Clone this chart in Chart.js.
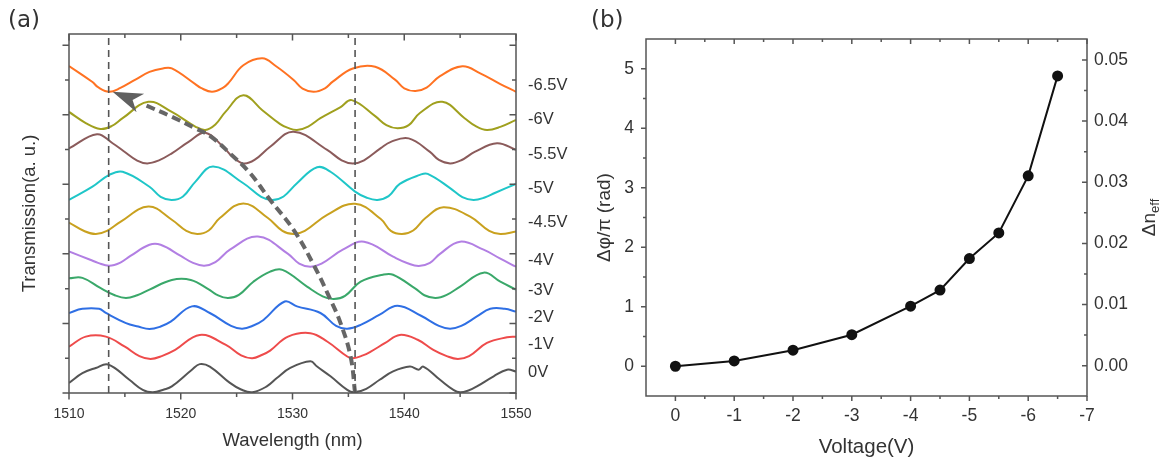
<!DOCTYPE html>
<html>
<head>
<meta charset="utf-8">
<script src="https://cdn.jsdelivr.net/npm/chart.js@4.4.1/dist/chart.umd.min.js"></script>
<style>
  body { margin: 0; background: #fff; width: 1169px; height: 466px; position: relative; overflow: hidden; }
  canvas { position: absolute; top: 0; }
  #graficoA { left: 0; }
  #graficoB { left: 570px; }
  .painel { position: absolute; top: 8px; font-family: 'DejaVu Sans', sans-serif; font-size: 23px; line-height: 23px; color: #333; }
</style>
</head>
<body>
<canvas id="graficoA" width="570" height="466"></canvas>
<canvas id="graficoB" width="599" height="466"></canvas>
<div class="painel" style="left:8px">(a)</div>
<div class="painel" style="left:591px">(b)</div>
<script>
const FONTE = "'Liberation Sans', Arial, sans-serif";

// ---------- Painel (a): espectros de transmissão (já deslocados) ----------
const tensoes = ['0V', '-1V', '-2V', '-3V', '-4V', '-4.5V', '-5V', '-5.5V', '-6V', '-6.5V'];
const cores = ['#555555', '#ee4b4b', '#2f6fe4', '#3aa86a', '#b27fe3', '#c9a11f', '#1fc6c8', '#8b5b5b', '#a0a01e', '#ff7222'];

// pares [comprimento de onda (nm), transmissão (u.a.)]
const espectro0V = [[1510,0.29],[1511.2,0.57],[1512.4,0.72],[1513.5,0.82],[1515.4,0.38],[1516.6,0.09],[1517.5,0.02],[1518.5,0.10],[1519.2,0.19],[1521.0,0.67],[1521.7,0.83],[1522.6,0.76],[1524.4,0.29],[1525.4,0.10],[1526.4,0.02],[1527.7,0.19],[1528.6,0.43],[1529.8,0.72],[1531.6,0.91],[1532.2,0.76],[1533.4,0.48],[1534.9,0.09],[1535.5,0.02],[1536.6,0.12],[1537.8,0.38],[1539.0,0.62],[1540.5,0.76],[1541.3,0.67],[1541.7,0.76],[1543.2,0.38],[1544.4,0.09],[1545.0,0.02],[1545.8,0.08],[1546.5,0.19],[1548.0,0.48],[1549.2,0.67],[1550,0.62]];
const espectro1V = [[1510,1.33],[1511.5,1.62],[1513.3,1.62],[1515,1.33],[1516.3,1.06],[1517.3,0.98],[1518.3,1.06],[1519.5,1.24],[1521.7,1.67],[1524,1.39],[1525.4,1.08],[1526.4,1.0],[1527.3,1.10],[1528,1.22],[1529.6,1.62],[1531.6,1.72],[1533.1,1.48],[1534.9,1.05],[1535.4,1.0],[1536.3,1.08],[1537,1.19],[1538.3,1.44],[1539.6,1.67],[1541.2,1.53],[1542.6,1.24],[1543.8,1.06],[1544.8,0.98],[1545.8,1.06],[1547.4,1.44],[1549.2,1.60],[1550,1.62]];
const espectro2V = [[1510,2.30],[1511.2,2.42],[1512.7,2.42],[1513.3,2.30],[1515.1,2.01],[1516.2,1.91],[1517.2,1.84],[1518.2,1.91],[1519.1,2.05],[1521.0,2.49],[1522.6,2.30],[1524.5,1.93],[1525.5,1.85],[1526.5,1.94],[1527.4,2.10],[1529.3,2.63],[1530.4,2.49],[1532.5,2.30],[1533.9,1.93],[1534.9,1.85],[1536.1,1.96],[1537.8,2.25],[1539.4,2.51],[1541.5,2.22],[1543.1,1.93],[1544.1,1.85],[1545.1,1.93],[1546.5,2.20],[1547.7,2.42],[1549.0,2.42],[1550,2.34]];
const espectro3V = [[1510,3.30],[1511.2,3.31],[1512.8,3.02],[1514.1,2.81],[1515.1,2.73],[1516.1,2.81],[1517.2,2.97],[1519.2,3.25],[1520.9,3.25],[1522.5,2.98],[1523.2,2.83],[1524.2,2.73],[1525.2,2.82],[1526.5,3.20],[1528.0,3.49],[1529.1,3.54],[1531.3,3.06],[1532.7,2.78],[1533.7,2.70],[1534.7,2.79],[1536.1,3.20],[1538.1,3.40],[1539.0,3.40],[1541.0,3.00],[1541.8,2.81],[1542.8,2.73],[1543.8,2.82],[1545.0,3.06],[1547.1,3.46],[1548.6,3.20],[1550,2.97]];
const espectro4V = [[1510,4.07],[1511.9,3.83],[1512.6,3.74],[1513.6,3.66],[1514.6,3.75],[1515.5,3.94],[1517.2,4.26],[1518.2,4.26],[1520.0,3.94],[1521.1,3.74],[1522.1,3.66],[1523.1,3.76],[1524.4,4.12],[1526.9,4.50],[1529.6,4.00],[1530.6,3.72],[1531.6,3.63],[1532.6,3.72],[1534.5,4.12],[1536.4,4.35],[1539.0,3.92],[1540.3,3.73],[1541.3,3.65],[1542.3,3.74],[1543.2,4.00],[1545.0,4.35],[1547.1,4.12],[1548.6,3.86],[1550,3.63]];
const espectro45V = [[1510,4.90],[1511.4,4.65],[1512.4,4.57],[1513.4,4.66],[1514.6,4.92],[1517.1,5.36],[1519.2,4.98],[1520.5,4.66],[1521.5,4.57],[1522.5,4.67],[1523.5,5.03],[1525.6,5.45],[1527.8,5.03],[1529.1,4.66],[1530.1,4.57],[1531.1,4.66],[1533.1,5.12],[1535.6,5.44],[1537.9,5.00],[1538.8,4.66],[1539.8,4.57],[1540.8,4.67],[1541.9,5.03],[1543.5,5.34],[1545.9,5.07],[1547.6,4.66],[1548.6,4.57],[1550,4.64]];
const espectro5V = [[1510,5.55],[1512.1,5.93],[1513.6,6.27],[1514.8,6.36],[1517.2,5.93],[1518.2,5.64],[1519.2,5.55],[1520.2,5.65],[1521.3,6.07],[1522.9,6.51],[1525.6,6.03],[1527.2,5.64],[1528.2,5.55],[1529.2,5.65],[1530.4,6.03],[1532.2,6.49],[1533.4,6.36],[1535.6,5.79],[1536.6,5.62],[1537.6,5.55],[1538.6,5.66],[1539.6,6.01],[1541.4,6.27],[1542.1,6.30],[1544.1,5.89],[1545.2,5.63],[1546.2,5.55],[1547.2,5.62],[1548.1,5.75],[1550,6.01]];
const espectro55V = [[1510,7.03],[1512.5,7.44],[1513.9,7.18],[1514.9,6.95],[1516.1,6.68],[1517.0,6.60],[1518.0,6.68],[1519.2,6.89],[1520.7,7.22],[1522.2,7.48],[1523.9,7.04],[1524.6,6.80],[1525.6,6.60],[1526.6,6.70],[1528.0,7.08],[1530.1,7.51],[1533.1,6.99],[1534.4,6.69],[1535.4,6.60],[1536.4,6.69],[1537.9,7.04],[1538.8,7.22],[1540.4,7.32],[1542.3,6.93],[1543.1,6.70],[1544.1,6.60],[1545.1,6.69],[1546.3,6.93],[1548.3,7.18],[1550,6.99]];
const espectro6V = [[1510,8.08],[1511.5,7.76],[1512.8,7.59],[1513.8,7.67],[1514.8,7.90],[1517.1,8.37],[1519.2,8.08],[1521.3,7.66],[1522.2,7.56],[1523.1,7.72],[1524.0,8.08],[1525.6,8.56],[1527.3,8.13],[1528.9,7.73],[1529.6,7.62],[1530.4,7.56],[1531.4,7.66],[1532.5,7.90],[1534.3,8.22],[1535.3,8.42],[1537.4,7.96],[1538.4,7.70],[1539.4,7.61],[1540.4,7.70],[1541.4,8.05],[1543.4,8.37],[1545.4,7.90],[1546.4,7.67],[1547.4,7.56],[1548.6,7.65],[1550,7.85]];
const espectro65V = [[1510,9.40],[1512.1,8.94],[1512.6,8.79],[1513.6,8.66],[1514.6,8.77],[1515.9,9.00],[1517.2,9.23],[1518.4,9.33],[1519.2,9.33],[1521.3,8.88],[1521.8,8.77],[1522.8,8.66],[1523.8,8.78],[1524.3,8.92],[1525.6,9.42],[1527.3,9.62],[1528.5,9.40],[1530.1,9.00],[1530.9,8.75],[1531.9,8.66],[1532.9,8.76],[1533.6,8.95],[1535.4,9.33],[1537.4,9.38],[1539.2,9.00],[1540.0,8.76],[1541.0,8.68],[1542.0,8.78],[1543.2,9.11],[1545.2,9.39],[1546.8,9.19],[1548.6,8.88],[1550,8.66]];
const espectros = [espectro0V, espectro1V, espectro2V, espectro3V, espectro4V, espectro45V, espectro5V, espectro55V, espectro6V, espectro65V];

// altura (u.a.) de cada rótulo de tensão à direita
const niveisRotulo = [0.59, 1.39, 2.16, 2.94, 3.80, 4.89, 5.89, 6.85, 7.85, 8.85];

// linhas verticais tracejadas e seta curva (deslocamento da ressonância)
const linhasTracejadas = [1513.55, 1535.6];
const caminhoSeta = [[1535.6,0.0],[1535.2,1.05],[1534.3,2.01],[1533.4,2.68],[1531.9,3.68],[1530.1,4.69],[1528.0,5.55],[1526.2,6.32],[1524.4,6.89],[1522.7,7.37],[1521.3,7.61],[1519.2,7.94],[1516.8,8.28]];
const pontaSeta = [1513.9, 8.66];

const limitesTransmissao = [0, 10.32];
const ticksComprimento = [1510, 1520, 1530, 1540, 1550];
const ticksComprimentoMenores = [1515, 1525, 1535, 1545];
const ticksTransmissao = [0, 2, 4, 6, 8, 10];
const ticksTransmissaoMenores = [1, 3, 5, 7, 9];

// ---------- Painel (b): fase x tensão ----------
const voltagem = [0, -1, -2, -3, -4, -4.5, -5, -5.5, -6, -6.5];
const fase = [0, 0.09, 0.27, 0.53, 1.01, 1.28, 1.81, 2.24, 3.20, 4.88];
const limitesFase = [-0.5, 5.5];
const limitesIndice = [-0.00496, 0.05343];
const ticksVoltagem = [0, -1, -2, -3, -4, -5, -6, -7];
const ticksVoltagemMenores = [-0.5, -1.5, -2.5, -3.5, -4.5, -5.5, -6.5];
const ticksFase = [0, 1, 2, 3, 4, 5];
const ticksFaseMenores = [0.5, 1.5, 2.5, 3.5, 4.5];
const ticksIndice = [0, 0.01, 0.02, 0.03, 0.04, 0.05];
const ticksIndiceMenores = [0.005, 0.015, 0.025, 0.035, 0.045];


// Moldura estilo Origin: marcas para fora embaixo/esquerda, para dentro em cima/direita
const moldura = {
    id: 'moldura',
    afterDatasetsDraw(chart, args, o) {
        const ctx = chart.ctx;
        const a = chart.chartArea;
        const sx = chart.scales.x;
        const sy = chart.scales.y;
        const sd = chart.scales[o.escalaDireita];
        ctx.save();
        ctx.strokeStyle = '#555';
        ctx.lineWidth = 1.5;
        ctx.beginPath();
        function marcaX(v, t) {
            const p = sx.getPixelForValue(v);
            ctx.moveTo(p, a.bottom); ctx.lineTo(p, a.bottom + t);
            ctx.moveTo(p, a.top); ctx.lineTo(p, a.top + t);
        }
        function marcaEsq(v, t) {
            const p = sy.getPixelForValue(v);
            ctx.moveTo(a.left, p); ctx.lineTo(a.left - t, p);
        }
        function marcaDir(v, t) {
            const p = sd.getPixelForValue(v);
            ctx.moveTo(a.right, p); ctx.lineTo(a.right - t, p);
        }
        o.xMaior.forEach(v => marcaX(v, o.maior));
        o.xMenor.forEach(v => marcaX(v, o.menor));
        o.yMaior.forEach(v => marcaEsq(v, o.maior));
        o.yMenor.forEach(v => marcaEsq(v, o.menor));
        o.dMaior.forEach(v => marcaDir(v, o.maior));
        o.dMenor.forEach(v => marcaDir(v, o.menor));
        ctx.stroke();
        ctx.strokeRect(a.left, a.top, a.right - a.left, a.bottom - a.top);
        ctx.restore();
    }
};

// Ponta da seta tracejada
const seta = {
    id: 'seta',
    afterDatasetsDraw(chart) {
        const ctx = chart.ctx;
        const sx = chart.scales.x, sy = chart.scales.y;
        const base = caminhoSeta[caminhoSeta.length - 1];
        const bx = sx.getPixelForValue(base[0]), by = sy.getPixelForValue(base[1]);
        const tx = sx.getPixelForValue(pontaSeta[0]), ty = sy.getPixelForValue(pontaSeta[1]);
        const d = Math.hypot(tx - bx, ty - by);
        const ux = (tx - bx) / d, uy = (ty - by) / d;
        const L = 30, W = 10;
        const hx = tx - ux * L, hy = ty - uy * L;
        const nx = tx - ux * L * 0.72, ny = ty - uy * L * 0.72;
        ctx.save();
        ctx.fillStyle = '#606060';
        ctx.beginPath();
        ctx.moveTo(tx, ty);
        ctx.lineTo(hx - uy * W, hy + ux * W);
        ctx.lineTo(nx, ny);
        ctx.lineTo(hx + uy * W, hy - ux * W);
        ctx.closePath();
        ctx.fill();
        ctx.restore();
    }
};

// Título do eixo direito com subscrito (Δn_eff)
const tituloIndice = {
    id: 'tituloIndice',
    afterDraw(chart) {
        const ctx = chart.ctx;
        const cx = chart.scales.y2.right - 20;
        const cy = (chart.chartArea.top + chart.chartArea.bottom) / 2;
        ctx.save();
        ctx.translate(cx, cy);
        ctx.rotate(-Math.PI / 2);
        ctx.fillStyle = '#333';
        ctx.textAlign = 'left';
        ctx.textBaseline = 'alphabetic';
        ctx.font = '19px ' + FONTE;
        const w1 = ctx.measureText('Δn').width;
        ctx.font = '13px ' + FONTE;
        const w2 = ctx.measureText('eff').width;
        const x0 = -(w1 + w2) / 2;
        ctx.font = '19px ' + FONTE;
        ctx.fillText('Δn', x0, 6);
        ctx.font = '13px ' + FONTE;
        ctx.fillText('eff', x0 + w1, 10);
        ctx.restore();
    }
};

function pares(lista) {
    return lista.map(p => ({ x: p[0], y: p[1] }));
}

function plotarEspectros() {
    let dados = { datasets: [] };

    // anotações por cima das curvas
    linhasTracejadas.forEach(function (l) {
        dados.datasets.push({
            data: [{ x: l, y: limitesTransmissao[0] }, { x: l, y: limitesTransmissao[1] }],
            borderColor: '#555',
            borderWidth: 1.6,
            borderDash: [7, 5],
            pointRadius: 0,
            order: 0
        });
    });
    dados.datasets.push({
        data: pares(caminhoSeta),
        borderColor: '#666',
        borderWidth: 4,
        borderDash: [9, 5],
        tension: 0.4,
        pointRadius: 0,
        order: 0
    });

    for (let i = 0; i < espectros.length; i++) {
        dados.datasets.push({
            label: tensoes[i],
            data: pares(espectros[i]),
            borderColor: cores[i],
            borderWidth: 2,
            pointRadius: 0,
            tension: 0.4,
            order: 1
        });
    }

    const config = {
        type: 'line',
        data: dados,
        options: {
            responsive: false,
            animation: false,
            layout: { padding: { top: 34, left: 0, right: 0, bottom: 0 } },
            plugins: {
                legend: { display: false },
                tooltip: { enabled: false },
                moldura: {
                    escalaDireita: 'y', maior: 6.5, menor: 4,
                    xMaior: ticksComprimento, xMenor: ticksComprimentoMenores,
                    yMaior: ticksTransmissao, yMenor: ticksTransmissaoMenores,
                    dMaior: ticksTransmissao, dMenor: ticksTransmissaoMenores
                }
            },
            scales: {
                x: {
                    type: 'linear',
                    min: 1510,
                    max: 1550,
                    afterBuildTicks: s => { s.ticks = ticksComprimento.map(v => ({ value: v })); },
                    afterFit: s => { s.height = 73; },
                    grid: { display: false, drawTicks: false },
                    border: { display: false },
                    ticks: { padding: 13, color: '#333', autoSkip: false, maxRotation: 0, font: { family: FONTE, size: 14 }, callback: v => String(v) },
                    title: { display: true, text: 'Wavelength (nm)', color: '#333', font: { family: FONTE, size: 18.5 }, padding: { top: 0, bottom: 14 } }
                },
                y: {
                    min: limitesTransmissao[0],
                    max: limitesTransmissao[1],
                    afterFit: s => { s.width = 69; },
                    grid: { display: false, drawTicks: false },
                    border: { display: false },
                    ticks: { display: false },
                    title: { display: true, text: 'Transmission(a. u.)', color: '#333', font: { family: FONTE, size: 18.5 }, padding: { top: 19, bottom: 0 } }
                },
                yLab: {
                    position: 'right',
                    min: limitesTransmissao[0],
                    max: limitesTransmissao[1],
                    afterBuildTicks: s => { s.ticks = niveisRotulo.map(v => ({ value: v })); },
                    afterFit: s => { s.width = 54; },
                    grid: { display: false, drawTicks: false },
                    border: { display: false },
                    ticks: {
                        padding: 12, color: '#333', autoSkip: false,
                        font: { family: FONTE, size: 16.5 },
                        callback: (v, i) => tensoes[i]
                    }
                }
            }
        },
        plugins: [moldura, seta]
    };

    let grafico = new Chart(document.getElementById('graficoA'), config);
}

function plotarFase() {
    let dados = {
        datasets: [{
            label: 'Δφ/π',
            data: voltagem.map((v, i) => ({ x: v, y: fase[i] })),
            borderColor: '#111',
            borderWidth: 2,
            pointRadius: 4.5,
            pointBackgroundColor: '#111',
            pointBorderColor: '#111',
            tension: 0
        }]
    };

    const config = {
        type: 'line',
        data: dados,
        options: {
            responsive: false,
            animation: false,
            layout: { padding: { top: 39, left: 0, right: 0, bottom: 0 } },
            plugins: {
                legend: { display: false },
                tooltip: { enabled: false },
                moldura: {
                    escalaDireita: 'y2', maior: 5, menor: 3,
                    xMaior: ticksVoltagem, xMenor: ticksVoltagemMenores,
                    yMaior: ticksFase, yMenor: ticksFaseMenores,
                    dMaior: ticksIndice, dMenor: ticksIndiceMenores
                }
            },
            scales: {
                x: {
                    type: 'linear',
                    reverse: true,
                    min: -7,
                    max: 0.5,
                    afterBuildTicks: s => { s.ticks = ticksVoltagem.map(v => ({ value: v })); },
                    afterFit: s => { s.height = 70; },
                    grid: { display: false, drawTicks: false },
                    border: { display: false },
                    ticks: { padding: 9.5, color: '#333', autoSkip: false, maxRotation: 0, font: { family: FONTE, size: 17.5 }, callback: v => String(v) },
                    title: { display: true, text: 'Voltage(V)', color: '#333', font: { family: FONTE, size: 20.5 }, padding: { top: 0, bottom: 6 } }
                },
                y: {
                    min: limitesFase[0],
                    max: limitesFase[1],
                    afterBuildTicks: s => { s.ticks = ticksFase.map(v => ({ value: v })); },
                    afterFit: s => { s.width = 76; },
                    grid: { display: false, drawTicks: false },
                    border: { display: false },
                    ticks: { padding: 12, color: '#333', font: { family: FONTE, size: 17.5 } },
                    title: { display: true, text: 'Δφ/π (rad)', color: '#333', font: { family: FONTE, size: 19 }, padding: { top: 23.5, bottom: 0 } }
                },
                y2: {
                    position: 'right',
                    min: limitesIndice[0],
                    max: limitesIndice[1],
                    afterBuildTicks: s => { s.ticks = ticksIndice.map(v => ({ value: v })); },
                    afterFit: s => { s.width = 82; },
                    grid: { display: false, drawTicks: false },
                    border: { display: false },
                    ticks: { padding: 7, color: '#333', font: { family: FONTE, size: 17.5 }, callback: v => v.toFixed(2) }
                }
            }
        },
        plugins: [moldura, tituloIndice]
    };

    let grafico = new Chart(document.getElementById('graficoB'), config);
}

plotarEspectros();
plotarFase();
</script>
</body>
</html>
